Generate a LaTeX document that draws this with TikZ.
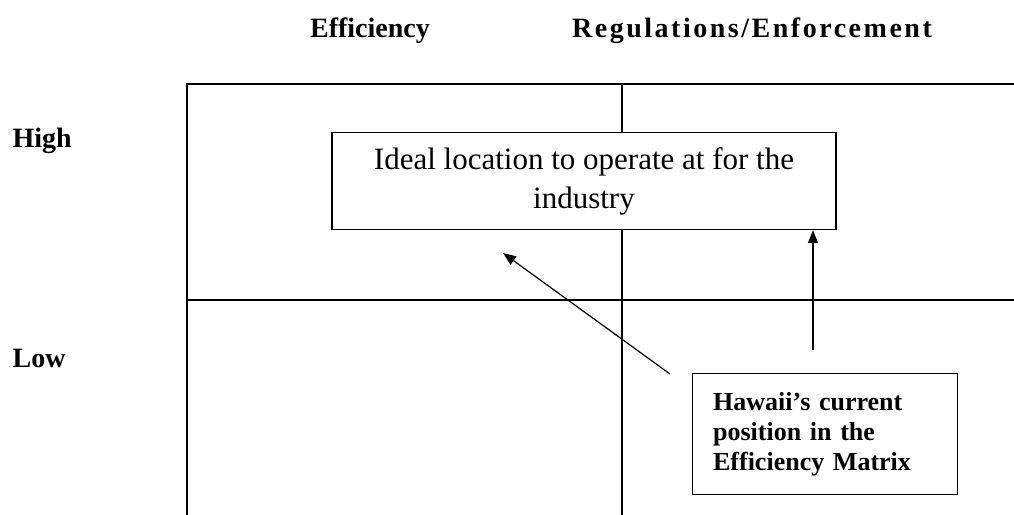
\documentclass[tikz,border=0pt]{standalone}
\usepackage{fontspec}
\setmainfont{Liberation Serif}
\usetikzlibrary{arrows.meta}

\begin{document}
\begin{tikzpicture}[x=1pt,y=-1pt,line width=1.2pt]
\tikzstyle{every node}=[inner sep=0pt]
\tikzstyle{axislabel}=[font=\fontsize{28}{32}\selectfont\bfseries]
\tikzstyle{ideal}=[draw, fill=white, minimum width=504pt, minimum height=97pt, align=center, font=\fontsize{31}{39}\selectfont]
\tikzstyle{current}=[draw, fill=white, anchor=north west, minimum height=121pt, text width=224pt, inner xsep=20.5pt, align=left, font=\fontsize{26}{30}\selectfont\bfseries]
\tikzstyle{pointer}=[-{Triangle[length=13pt,width=10pt]}]

\clip (0,0) rectangle (1014,514);

% the matrix
\draw (187,600) -- (187,84) -- (1100,84);
\draw (187,300) -- (1100,300);
\draw (622,84) -- (622,600);

% labels
\node[axislabel, anchor=base] (eff) at (370,37) {Efficiency};
\node[axislabel, anchor=base] (reg) at (752,37) {\addfontfeature{LetterSpace=9}Regulations/Enforcement};
\node[axislabel, anchor=base west] (high) at (12,147) {High};
\node[axislabel, anchor=base west] (low) at (12,367) {Low};

% boxes
\node[ideal] (ideal) at (584,181) {Ideal location to operate at for the\\industry};
\node[current] (hawaii) at (692,373) {Hawaii’s current\\position in the\\Efficiency Matrix};

% arrows
\coordinate (from1) at (670,374);
\coordinate (to1) at (503,253);
\coordinate (from2) at (813,350);
\draw[pointer] (from1) -- (to1);
\draw[pointer] (from2) -- (from2 |- ideal.south);

\end{tikzpicture}
\end{document}
